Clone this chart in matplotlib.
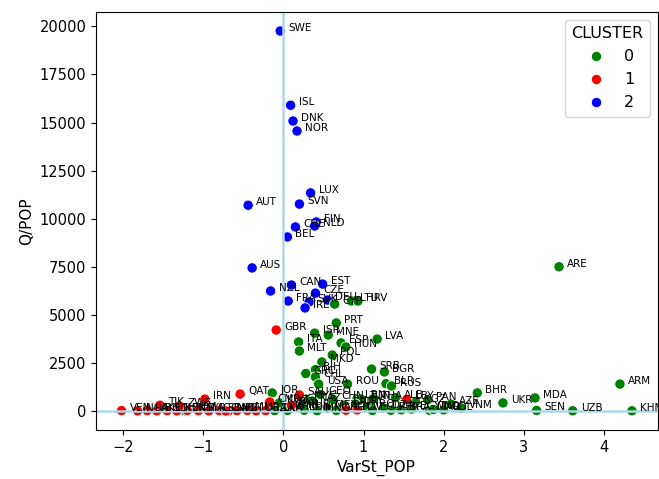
import matplotlib.pyplot as plt
import pandas as pd
import seaborn as sns

# landskoder, VarSt_POP, Q/POP och kluster
land = ["SWE", "ISL", "DNK", "NOR", "LUX", "AUT", "SVN", "CHE", "FIN", "NLD",
        "BEL", "AUS", "NZL", "CAN", "EST", "CZE", "FRA", "SVK", "IRE", "DEU",
        "CYP", "LTU", "HRV", "PRT", "ISR", "MNE", "LVA", "ITA", "ESP", "HUN",
        "MLT", "POL", "MKD", "BIH", "GRC", "CHL", "USA", "ROU", "SRB", "BGR",
        "BLR", "RUS", "ARE",
        "JOR", "KWT", "OMN", "TUR", "MYS", "GEO", "KAZ", "MEX", "ARG", "CHN",
        "LBN", "TUN", "IRQ", "THA", "ALB", "KGZ", "PAN", "AZE", "BRA", "PER",
        "ECU", "DZA", "EGY", "MAR", "IND", "COL", "VNM", "BHR", "UKR", "MDA",
        "SEN", "UZB", "ARM", "KHM", "TKM", "LKA", "PHL", "IDN", "MNG", "URY",
        "CRI",
        "GBR", "IRN", "QAT", "SAU", "LBY", "VEN", "NGA", "PAK", "BGD", "TJK",
        "ETH", "KEN", "YEM", "SYR", "AGO", "SDN", "NPL", "HTI", "MMR", "UGA",
        "TZA", "CMR", "GHA", "CIV", "BOL", "ZWE", "LAO"]

varst_pop = [-0.04, 0.09, 0.12, 0.17, 0.34, -0.44, 0.20, 0.15, 0.41, 0.39,
             0.05, -0.39, -0.16, 0.10, 0.49, 0.40, 0.06, 0.32, 0.27, 0.55,
             0.64, 0.85, 0.93, 0.66, 0.39, 0.56, 1.17, 0.19, 0.72, 0.78,
             0.20, 0.61, 0.48, 0.40, 0.28, 0.40, 0.44, 0.80, 1.10, 1.26,
             1.28, 1.35, 3.44,
             -0.14, -0.05, 0.04, 0.22, 0.28, 0.46, 0.36, 0.55, 0.66, 0.62,
             0.92, 0.97, 1.05, 1.12, 1.40, 1.65, 1.80, 2.09, 1.47, 1.34,
             1.11, 1.25, 1.60, 1.82, 1.87, 2.00, 2.22, 2.42, 2.74, 3.14,
             3.16, 3.61, 4.20, 4.35, -1.23, -0.11, 0.05, 0.26, 0.42, 0.90,
             0.76,
             -0.09, -0.98, -0.54, 0.20, 1.54, -2.02, -1.82, -1.70, -1.58, -1.54,
             -1.45, -1.33, -1.20, -1.06, -0.93, -0.80, -0.68, -0.58, -0.45, -0.34,
             -0.22, -0.17, 0.78, 0.92, 0.10, -1.30, -0.72]

q_pop = [19760, 15900, 15080, 14560, 11340, 10700, 10760, 9570, 9830, 9620,
         9050, 7440, 6240, 6550, 6600, 6130, 5720, 5670, 5360, 5770,
         5560, 5720, 5720, 4580, 4050, 3950, 3740, 3590, 3540, 3330,
         3120, 2910, 2550, 2150, 1950, 1770, 1400, 1400, 2180, 2030,
         1420, 1300, 7500,
         940, 420, 150, 200, 620, 860, 520, 150, 30, 600,
         650, 620, 220, 640, 700, 480, 580, 360, 60, 40,
         30, 160, 100, 40, 80, 60, 150, 940, 420, 680,
         30, 10, 1400, 10, 10, 20, 30, 40, 20, 360,
         300,
         4210, 620, 880, 830, 600, 20, 10, 20, 10, 300,
         20, 10, 30, 20, 10, 20, 10, 20, 30, 10,
         20, 470, 40, 60, 300, 260, 0]

cluster = [2] * 20 + [0] * 64 + [1] * 27

df = pd.DataFrame({"LAND": land, "VarSt_POP": varst_pop,
                   "Q/POP": q_pop, "CLUSTER": cluster})

fig = plt.figure(figsize=(6.59, 4.79), dpi=100)
ax = fig.add_axes([96 / 659, 49 / 479, 561.5 / 659, 418 / 479])

sns.scatterplot(data=df, x="VarSt_POP", y="Q/POP", hue="CLUSTER",
                palette=["green", "red", "blue"], s=55, ax=ax)

# namn bredvid varje punkt
for i in range(len(df)):
    ax.text(df["VarSt_POP"][i] + 0.1, df["Q/POP"][i], df["LAND"][i], fontsize=7.5)

ax.axhline(0, color="lightblue", linewidth=1.8)
ax.axvline(0, color="lightblue", linewidth=1.8)

ax.set_xlabel("VarSt_POP", fontsize=11)
ax.set_ylabel("Q/POP", fontsize=11)
ax.tick_params(labelsize=10.5)
ax.legend(title="CLUSTER", loc="upper right", fontsize=11.5, title_fontsize=11.5)

fig.savefig("out.png", dpi=100)
